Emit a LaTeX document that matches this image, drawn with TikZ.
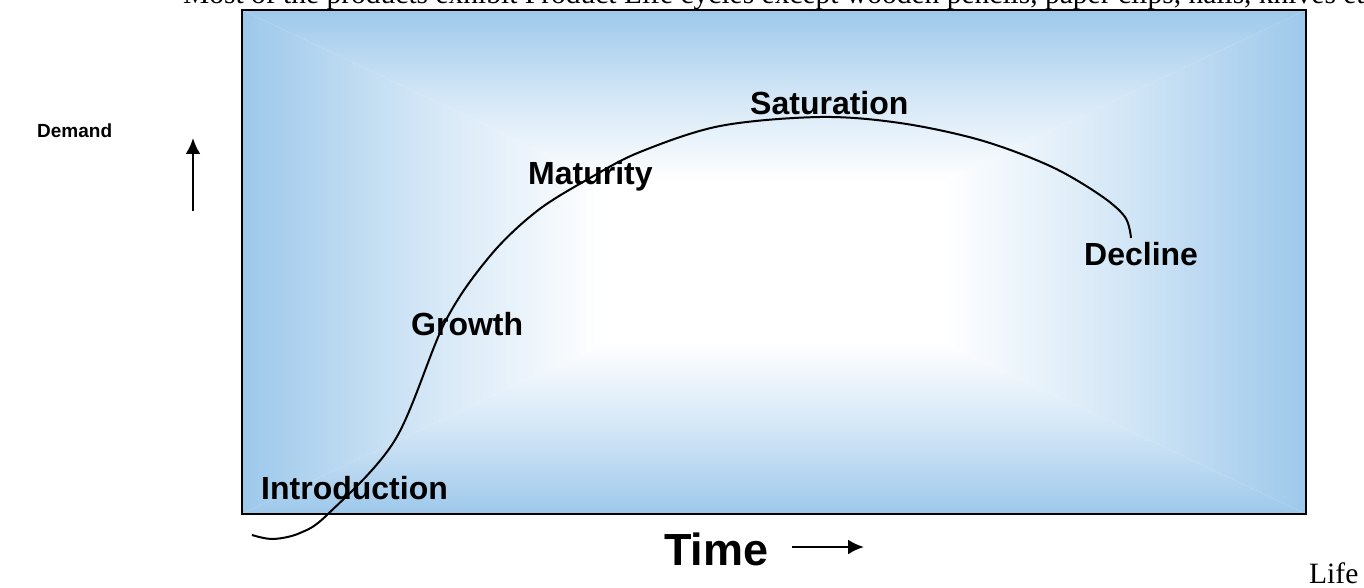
\documentclass[tikz,border=0pt]{standalone}
\usepackage{fontspec}
\setmainfont{Liberation Serif}
\setsansfont{Liberation Sans}
\usetikzlibrary{arrows.meta}

\definecolor{boxblue}{RGB}{157,200,235}

\tikzset{
  stage/.style={font=\sffamily\bfseries\fontsize{32}{38}\selectfont,anchor=base west,inner sep=0pt},
  body/.style={font=\fontsize{29.5}{34}\selectfont,anchor=base west,inner sep=0pt},
  bigarrow/.style={line width=2.5pt,-{Latex[length=16pt,width=15pt]}}
}

\begin{document}
\begin{tikzpicture}[x=1pt,y=-1pt]

\useasboundingbox (0,0) rectangle (1364,588);

% shaded box, edges blue and centre white
\shade[top color=boxblue,bottom color=white,middle color=boxblue!45!white]
  (242,10) -- (1306,10) -- (944,181) -- (604,181) -- cycle;
\shade[top color=white,bottom color=boxblue,middle color=boxblue!45!white]
  (242,514) -- (1306,514) -- (944,343) -- (604,343) -- cycle;
\shade[left color=boxblue,right color=white,middle color=boxblue!45!white]
  (242,10) -- (604,181) -- (604,343) -- (242,514) -- cycle;
\shade[left color=white,right color=boxblue,middle color=boxblue!45!white]
  (1306,10) -- (944,181) -- (944,343) -- (1306,514) -- cycle;
\fill[white] (604,181) rectangle (944,343);
\draw[line width=2.5pt] (242,10) rectangle (1306,514);

\node[body] (note) at (183,4)
  {Most of the products exhibit Product Life cycles except wooden pencils, paper clips, nails, knives etc};
\node[body] (life) at (1309,583) {Life};

\node[stage] (intro)  at (261,499) {Introduction};
\node[stage] (growth) at (411,335) {Growth};
\node[stage] (mature) at (528,185) {Maturity};
\node[stage] (satur)  at (750,115) {Saturation};
\node[stage] (decl)   at (1084,265) {Decline};

\node[anchor=base west,inner sep=0pt,font=\sffamily\bfseries\fontsize{19}{23}\selectfont] (demand) at (37,138) {Demand};
\node[anchor=base west,inner sep=0pt,font=\sffamily\bfseries\fontsize{45}{54}\selectfont] (time) at (664,565) {Time};

% life cycle curve
\draw[line width=2pt] plot[smooth,tension=0.55] coordinates {
  (252,535) (273,539) (300,533) (328,514) (395,440) (445,322) (490,256)
  (537,211) (590,178) (640,152) (720,126) (820,117) (900,123) (980,140)
  (1050,166) (1100,195) (1125,217) (1131,238)};

\coordinate (dtail) at (193,211);
\coordinate (dhead) at (193,138);
\draw[bigarrow] (dtail) -- (dhead);

\coordinate (ttail) at (792,547);
\coordinate (thead) at (864,547);
\draw[bigarrow] (ttail) -- (thead);

\end{tikzpicture}
\end{document}
